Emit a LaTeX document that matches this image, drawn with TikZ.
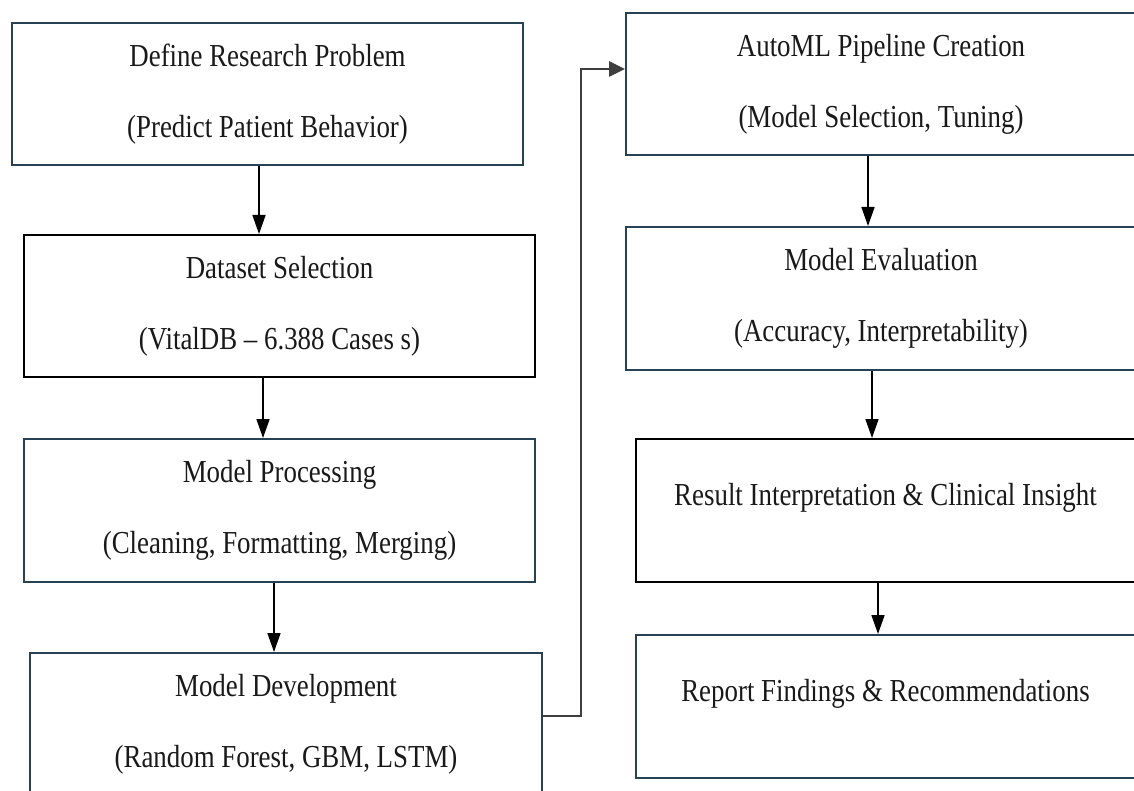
\documentclass[tikz,border=0pt]{standalone}
\usepackage{fontspec}
\setmainfont{Liberation Serif}[FakeStretch=0.84]
\usetikzlibrary{arrows.meta}
\definecolor{slate}{RGB}{38,66,84}
\definecolor{linkgray}{RGB}{62,62,62}
\begin{document}
\begin{tikzpicture}[x=1pt, y=-1pt,
  font=\fontsize{32}{71}\selectfont,
  stage/.style={line width=2pt, minimum width=511pt, minimum height=142pt,
                inner sep=0pt, align=center, text=black!90},
  bluebox/.style={stage, draw=slate},
  blackbox/.style={stage, draw=black},
  oneline/.style={text height=22pt, text depth=32pt},
  flow/.style={-{Triangle[length=19pt,width=13pt]}, line width=1.6pt, black},
  link/.style={-{Triangle[length=16pt,width=15pt]}, line width=2.6pt, linkgray}]

  % page frame
  \fill[white] (0,0) rectangle (1134,791);
  \path[use as bounding box, clip] (0,0) rectangle (1134,791);

  % left column
  \node[bluebox]  (b1) at (267.5,94)  {Define Research Problem\\(Predict Patient Behavior)};
  \node[blackbox] (b2) at (279.5,306) {Dataset Selection\\(VitalDB – 6.388 Cases s)};
  \node[bluebox, minimum height=143pt] (b3) at (279.5,510.5) {Model Processing\\(Cleaning, Formatting, Merging)};
  \node[bluebox, minimum width=512pt] (b4) at (286,724) {Model Development\\(Random Forest, GBM, LSTM)};

  % right column
  \node[bluebox, minimum width=510pt] (b5) at (881,84) {AutoML Pipeline Creation\\(Model Selection, Tuning)};
  \node[bluebox, minimum width=510pt, minimum height=143pt] (b6) at (881,298.5) {Model Evaluation\\(Accuracy, Interpretability)};
  \node[blackbox, oneline, minimum width=499pt, minimum height=143pt] (b7) at (885.5,510.5) {Result Interpretation \& Clinical Insight};
  \node[bluebox, oneline, minimum width=499pt, minimum height=143pt] (b8) at (885.5,706.5) {Report Findings \& Recommendations};

  % arrow columns
  \coordinate (a1) at (259,0);
  \coordinate (a2) at (263,0);
  \coordinate (a3) at (274,0);
  \coordinate (a5) at (868,0);
  \coordinate (a6) at (872,0);
  \coordinate (a7) at (878,0);

  \draw[flow] (b1.south -| a1) -- (b2.north -| a1);
  \draw[flow] (b2.south -| a2) -- (b3.north -| a2);
  \draw[flow] (b3.south -| a3) -- (b4.north -| a3);
  \draw[flow] (b5.south -| a5) -- (b6.north -| a5);
  \draw[flow] (b6.south -| a6) -- (b7.north -| a6);
  \draw[flow] (b7.south -| a7) -- (b8.north -| a7);

  % elbow link between the two columns
  \coordinate (bend1) at (581,716);
  \coordinate (bend2) at (581,69);
  \draw[link] (b4.east |- bend1) -- (bend1) -- (bend2) -- (b5.west |- bend2);
\end{tikzpicture}
\end{document}
